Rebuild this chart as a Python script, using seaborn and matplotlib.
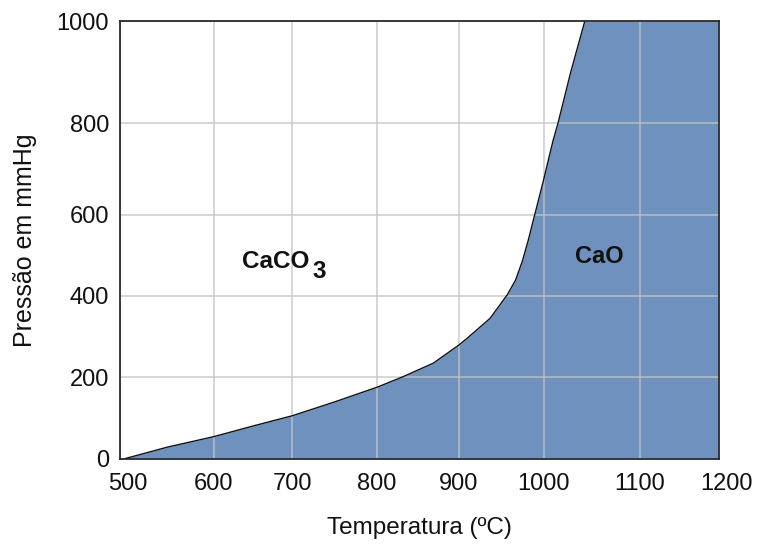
import numpy as np
import matplotlib
matplotlib.use("Agg")
import matplotlib.pyplot as plt
import matplotlib.transforms as mtransforms
import seaborn as sns

# Decomposition boundary of CaCO3 -> CaO + CO2
temperatura = [505, 550, 600, 650, 700, 750, 800, 831, 869, 900, 910, 937,
               957, 967, 975, 982, 988, 994, 1000, 1005, 1010, 1015, 1028, 1043]
pressao = [0, 28, 54, 80, 105, 139, 175, 200, 234, 278, 295, 344,
           401, 438, 485, 537, 587, 632, 676, 720, 763, 800, 898, 1000]

x_ticks = [500, 600, 700, 800, 900, 1000, 1100, 1200]
y_ticks = [0, 200, 400, 600, 800, 1000]

# Uneven spacing of the printed grid (relative units along each axis)
x_grid_pos = [0.0, 93.8, 172.2, 257.2, 338.8, 423.8, 519.8, 598.8]
y_grid_pos = [0.0, 81.7, 163.2, 244.0, 335.4, 437.7]

sns.set_theme(style="white")
plt.rcParams["font.family"] = ["Liberation Sans", "DejaVu Sans"]

fig = plt.figure(figsize=(7.58, 5.44), dpi=100)
ax = fig.add_axes([120 / 758, 1 - 458.7 / 544, 598.5 / 758, 437.7 / 544])


def make_scale(ticks, pos):
    ticks = np.asarray(ticks, float)
    pos = np.asarray(pos, float)

    def fwd(v):
        return np.interp(v, ticks, pos)

    def inv(v):
        return np.interp(v, pos, ticks)

    return fwd, inv


ax.set_xscale("function", functions=make_scale(x_ticks, x_grid_pos))
ax.set_yscale("function", functions=make_scale(y_ticks, y_grid_pos))

fill_x = temperatura + [1200]
fill_y = pressao + [1000]
ax.fill_between(fill_x, fill_y, 0, color="#6f91be", linewidth=0, zorder=1)

sns.lineplot(x=temperatura, y=pressao, ax=ax, color="#111111",
             linewidth=1.0, sort=False, estimator=None, zorder=4)

ax.set_xlim(500, 1200)
ax.set_ylim(0, 1000)
ax.set_xticks(x_ticks)
ax.set_yticks(y_ticks)
ax.set_xticklabels([str(v) for v in x_ticks])
ax.set_yticklabels([str(v) for v in y_ticks])

ax.grid(True, color="#c4c4c4", linewidth=1.3, alpha=0.75, zorder=2)
ax.set_axisbelow(False)
for line in ax.get_xgridlines() + ax.get_ygridlines():
    line.set_zorder(2)

for s in ax.spines.values():
    s.set_color("#2a2a2a")
    s.set_linewidth(1.3)
    s.set_zorder(5)

ax.tick_params(axis="x", length=0, pad=10, labelsize=17, colors="#111111")
ax.tick_params(axis="y", length=2, pad=6, labelsize=17, colors="#111111",
               color="#c4c4c4")

# first and last temperature labels sit a little to the right
for lab in ax.get_xticklabels():
    if lab.get_text() in ("500", "1200"):
        lab.set_transform(lab.get_transform() +
                          mtransforms.ScaledTranslation(8 / 100, 0, fig.dpi_scale_trans))

ax.set_xlabel("Temperatura (ºC)", fontsize=17.5, color="#111111", labelpad=16)
ax.set_ylabel("Pressão em mmHg", fontsize=18, color="#111111", labelpad=14)

t1 = ax.text(636, 468, "CaCO", fontsize=17.5, fontweight="bold",
             ha="left", va="baseline", color="#111111", zorder=6)
ax.annotate("3", xy=(1, 0), xycoords=t1, xytext=(2, -7.2),
            textcoords="offset points", ha="left", va="bottom",
            fontsize=17.5, fontweight="bold", color="#111111", zorder=6)
ax.text(1058, 480, "CaO", fontsize=17, fontweight="bold",
        ha="center", va="baseline", color="#111111", zorder=6)

fig.savefig("out.png", dpi=100)
